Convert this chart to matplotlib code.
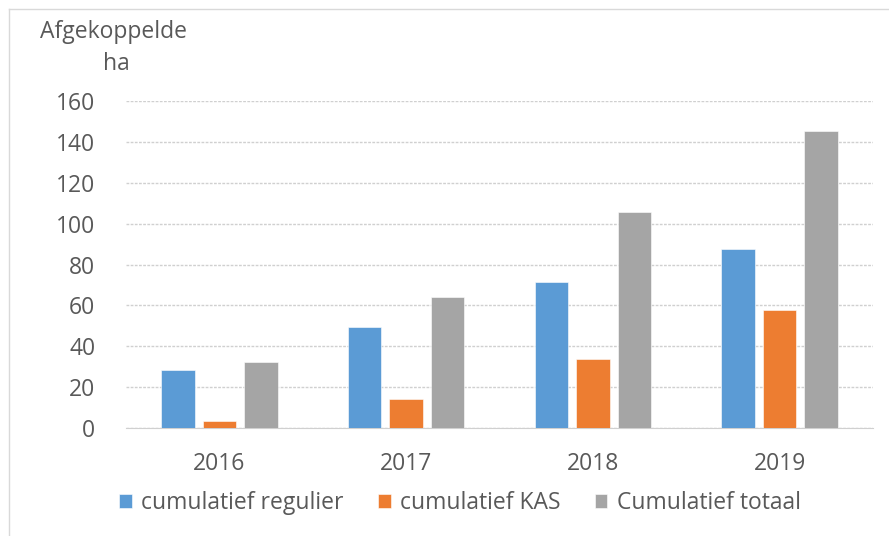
import matplotlib
matplotlib.use("Agg")
import matplotlib.pyplot as plt
import numpy as np
from matplotlib.lines import Line2D

# data
years = ["2016", "2017", "2018", "2019"]
regulier = [28.3, 49.2, 71.3, 87.5]
kas = [3.5, 14, 34, 57.5]
totaal = [32.5, 64, 105.5, 145.5]
series_names = ["cumulatief regulier", "cumulatief KAS", "Cumulatief totaal"]
yticks = [0, 20, 40, 60, 80, 100, 120, 140, 160]

colors = ["#5B9BD5", "#ED7D31", "#A5A5A5"]
txt = "#595959"
grid = "#d0d0d0"

plt.rcParams["font.family"] = ["Open Sans", "DejaVu Sans"]
fs = 16.5

fig = plt.figure(figsize=(8.89, 5.36), dpi=100)
ax = fig.add_axes([126 / 889, 1 - 428 / 536, 747 / 889, 327 / 536])

x = np.arange(len(years))
step = 0.222
width = 0.18
for i, (vals, name) in enumerate(zip([regulier, kas, totaal], series_names)):
    ax.bar(x + (i - 1) * step, vals, width, color=colors[i], label=name,
           edgecolor="white", linewidth=0.4, zorder=3)

ax.set_xlim(-0.5, len(years) - 0.5)
ax.set_ylim(0, 160)
ax.set_yticks(yticks)
ax.set_xticks(x)
ax.set_xticklabels(years)
ax.yaxis.grid(True, color=grid, linestyle=(0, (2, 1)), linewidth=1, zorder=0)
for s in ["top", "right", "left"]:
    ax.spines[s].set_visible(False)
ax.spines["bottom"].set_color(grid)
ax.spines["bottom"].set_linestyle((0, (2, 1)))
ax.tick_params(axis="both", length=0, labelsize=fs, colors=txt)
ax.tick_params(axis="y", pad=22)
ax.tick_params(axis="x", pad=17)

fig.text(114 / 889, 1 - 32 / 536, "Afgekoppelde", ha="center", va="center",
         fontsize=fs, color=txt)
fig.text(116 / 889, 1 - 64 / 536, "ha", ha="center", va="center",
         fontsize=fs, color=txt)

leg = fig.legend(loc="center", bbox_to_anchor=(460 / 889, 1 - 503 / 536), ncol=3,
                 frameon=False, fontsize=fs, handlelength=0.55, handleheight=0.55,
                 handletextpad=0.4, columnspacing=1.5)
for t in leg.get_texts():
    t.set_color(txt)

# outer frame of the chart area
fig.add_artist(Line2D([9 / 889, 9 / 889], [0, 1 - 9 / 536], transform=fig.transFigure,
                      color="#d9d9d9", linewidth=1))
fig.add_artist(Line2D([9 / 889, 1], [1 - 9 / 536, 1 - 9 / 536], transform=fig.transFigure,
                      color="#d9d9d9", linewidth=1))

fig.savefig("out.png", dpi=100)
